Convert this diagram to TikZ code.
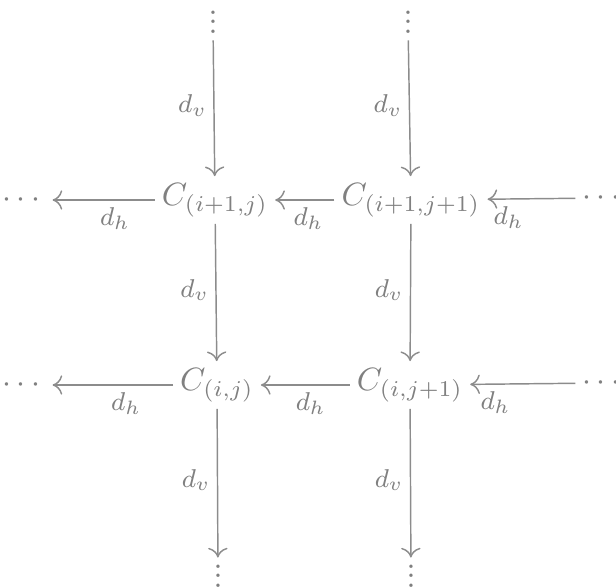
\documentclass[tikz,border=0pt]{standalone}
\usepackage{amsmath,amssymb}
\usetikzlibrary{arrows.meta,positioning}
\newcommand\vdts{\vbox{\baselineskip3pt \lineskiplimit0pt \hbox{.}\hbox{.}\hbox{.}}}
\tikzset{
  >={To[length=3pt,width=6pt]},
  cell/.style={text=black!50,inner sep=2pt},
  dotnode/.style={text=black!50,inner sep=2pt},
  map/.style={->,draw=black!45,line width=0.45pt},
  maplbl/.style={text=black!50,font=\footnotesize,inner sep=2pt},
}

\begin{document}
\begin{tikzpicture}[x=0.31pt,y=-0.31pt]
  \useasboundingbox (0,0) rectangle (616,588);
  % cells
  \node[cell] (c11) at (215,200) {$C_{(i+1,j)}$};
  \node[cell] (c12) at (411,200) {$C_{(i+1,j+1)}$};
  \node[cell] (c01) at (217,385) {$C_{(i,j)}$};
  \node[cell] (c02) at (410,385) {$C_{(i,j+1)}$};
  % dots
  \node[dotnode] (t1) at (213,22) {\vdts};
  \node[dotnode] (t2) at (408,22) {\vdts};
  \node[dotnode] (b1) at (218,576) {\vdts};
  \node[dotnode] (b2) at (411,576) {\vdts};
  \node[dotnode] (l1) at (24,200) {$\cdots$};
  \node[dotnode] (l0) at (24,385) {$\cdots$};
  \node[dotnode] (r1) at (604,198) {$\cdots$};
  \node[dotnode] (r0) at (604,383) {$\cdots$};
  % vertical maps
  \foreach \a/\b in {t1/c11, c11/c01, c01/b1, t2/c12, c12/c02, c02/b2}
    \draw[map] (\a) -- node[maplbl,left,pos=0.48] {$d_v$} (\b);
  % horizontal maps
  \foreach \r in {1,0} {
    \draw[map] (r\r) -- node[maplbl,below,pos=0.76] {$d_h$} (c\r2);
    \draw[map] (c\r2) -- node[maplbl,below,pos=0.44] {$d_h$} (c\r1);
    \draw[map] (c\r1) -- node[maplbl,below,pos=0.39] {$d_h$} (l\r);
  }
\end{tikzpicture}
\end{document}
